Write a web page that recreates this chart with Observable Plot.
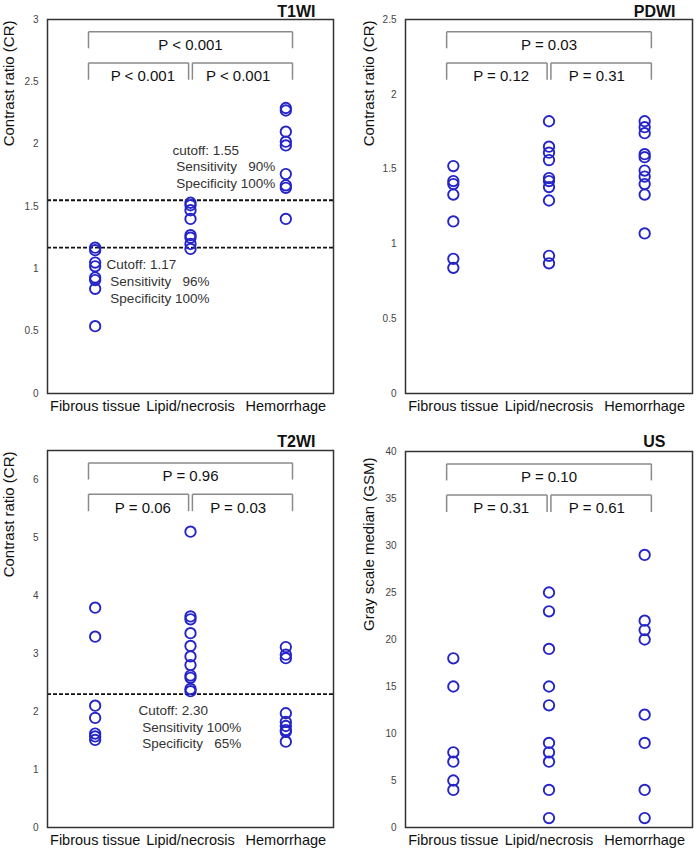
<!DOCTYPE html>
<html><head><meta charset="utf-8">
<script src="https://cdn.jsdelivr.net/npm/d3@7"></script>
<script src="https://cdn.jsdelivr.net/npm/@observablehq/plot@0.6"></script>
<style>
body{margin:0;background:#fff;}
#grid{display:grid;grid-template-columns:348px 348px;grid-template-rows:426px 427px;width:696px;}
#grid svg{display:block;}
svg text{white-space:pre;}
</style></head><body><div id="grid"></div>
<script>
// ---- categories ----
const groups = ["Fibrous tissue", "Lipid/necrosis", "Hemorrhage"];

// ---- T1WI (contrast ratio) ----
const t1Fibrous = [1.17, 1.15, 1.05, 1.02, 0.93, 0.91, 0.84, 0.54];
const t1Lipid = [1.53, 1.51, 1.47, 1.40, 1.27, 1.25, 1.20, 1.16];
const t1Hemorrhage = [2.29, 2.27, 2.10, 2.02, 1.99, 1.76, 1.67, 1.65, 1.40];
const t1Ticks = [0, 0.5, 1, 1.5, 2, 2.5, 3];
const t1P = ["P < 0.001", "P < 0.001", "P < 0.001"]; // 1-3, 1-2, 2-3
const t1Cutoffs = [1.55, 1.17];
const t1Notes = [
  {x: 1.81, y: 1.95, text: "cutoff: 1.55"},
  {x: 1.81, y: 1.82, text: " Sensitivity   90%"},
  {x: 1.81, y: 1.68, text: " Specificity 100%"},
  {x: 1.12, y: 1.035, text: "Cutoff: 1.17"},
  {x: 1.12, y: 0.90, text: " Sensitivity   96%"},
  {x: 1.12, y: 0.762, text: " Specificity 100%"}
];

// ---- PDWI (contrast ratio) ----
const pdFibrous = [1.52, 1.42, 1.40, 1.33, 1.15, 0.90, 0.84];
const pdLipid = [1.82, 1.65, 1.61, 1.56, 1.44, 1.42, 1.38, 1.29, 0.92, 0.87];
const pdHemorrhage = [1.82, 1.78, 1.74, 1.60, 1.58, 1.49, 1.45, 1.40, 1.33, 1.07];
const pdTicks = [0, 0.5, 1, 1.5, 2, 2.5];
const pdP = ["P = 0.03", "P = 0.12", "P = 0.31"];

// ---- T2WI (contrast ratio) ----
const t2Fibrous = [3.79, 3.29, 2.10, 1.89, 1.62, 1.57, 1.51];
const t2Lipid = [5.10, 3.64, 3.59, 3.35, 3.13, 2.95, 2.80, 2.62, 2.58, 2.39, 2.35];
const t2Hemorrhage = [3.11, 2.98, 2.92, 1.97, 1.82, 1.75, 1.68, 1.65, 1.48];
const t2Ticks = [0, 1, 2, 3, 4, 5, 6];
const t2P = ["P = 0.96", "P = 0.06", "P = 0.03"];
const t2Cutoffs = [2.30];
const t2Notes = [
  {x: 1.455, y: 2.02, text: "Cutoff: 2.30"},
  {x: 1.455, y: 1.72, text: " Sensitivity 100%"},
  {x: 1.455, y: 1.45, text: " Specificity   65%"}
];

// ---- US (gray scale median) ----
const usFibrous = [18, 15, 8, 7, 5, 4];
const usLipid = [25, 23, 19, 15, 13, 9, 8, 7, 4, 1];
const usHemorrhage = [29, 22, 21, 20, 12, 9, 4, 1];
const usTicks = [0, 5, 10, 15, 20, 25, 30, 35, 40];
const usP = ["P = 0.10", "P = 0.31", "P = 0.61"];

const FONT = "Liberation Sans, Arial, Helvetica, sans-serif";
const BLUE = "#2424c8";

function panel(o) {
  const pts = o.series.flatMap((vals, i) => vals.map(v => ({g: i + 1, v})));
  const ymax = o.ymax;
  const comps = [
    {from: 1, to: 3, level: 0, p: o.p[0]},
    {from: 1, to: 2, level: 1, p: o.p[1]},
    {from: 2, to: 3, level: 1, p: o.p[2]}
  ];
  const lv = [[0.967, 0.923, 0.932], [0.884, 0.839, 0.848]]; // top, tick end, label (fractions of ymax)
  const inset = (c, side) => {
    if (side === "l") return c.from === 1 ? c.from - 0.07 : c.from + 0.02;
    return c.to === 3 ? c.to + 0.07 : c.to - 0.02;
  };
  const segs = comps.flatMap(c => {
    const xl = inset(c, "l"), xr = inset(c, "r");
    const yt = lv[c.level][0] * ymax, yb = lv[c.level][1] * ymax;
    return [
      {x1: xl, y1: yt, x2: xr, y2: yt},
      {x1: xl, y1: yt, x2: xl, y2: yb},
      {x1: xr, y1: yt, x2: xr, y2: yb}
    ];
  });
  const labels = comps.map(c => ({x: (c.from + c.to) / 2, y: lv[c.level][2] * ymax, p: c.p}));
  return Plot.plot({
    width: 348,
    height: o.height,
    marginLeft: o.ml, marginRight: o.mr, marginTop: o.mt, marginBottom: o.mb,
    style: {fontFamily: FONT, background: "#fff", overflow: "visible"},
    x: {type: "linear", domain: [0.5, 3.5]},
    y: {domain: [0, ymax]},
    marks: [
      Plot.axisX([1, 2, 3], {tickSize: 0, tickPadding: 7, tickFormat: d => groups[d - 1], fontSize: 14.5, fill: "#111", label: null}),
      Plot.axisY(o.ticks, {tickSize: 0, tickPadding: 9, tickFormat: d => String(d), fontSize: 10, fill: "#444", label: null}),
      Plot.text([o.ylabel], {frameAnchor: "top-left", rotate: -90, textAnchor: "end", lineAnchor: "middle", dx: o.ylDx, dy: o.ylDy, fontSize: 15, fill: "#111"}),
      Plot.text([o.title], {frameAnchor: "top-right", textAnchor: "end", lineAnchor: "middle", dx: o.tDx, dy: o.tDy, fontSize: 16, fontWeight: "bold", fill: "#111"}),
      Plot.link(segs, {x1: "x1", y1: "y1", x2: "x2", y2: "y2", stroke: "#8a8a8a", strokeWidth: 1.5}),
      Plot.text(labels, {x: "x", y: "y", text: "p", fontSize: 15, fill: "#111"}),
      Plot.ruleY(o.cutoffs || [], {stroke: "#111", strokeWidth: 1.8, strokeDasharray: "4,2"}),
      Plot.text(o.notes || [], {x: "x", y: "y", text: "text", textAnchor: "start", fontSize: 13.5, fill: "#333"}),
      Plot.dot(pts, {x: "g", y: "v", r: 5.2, stroke: BLUE, strokeWidth: 1.9, fill: "none"}),
      Plot.frame({stroke: "#333", strokeWidth: 1.5})
    ]
  });
}

const grid = document.getElementById("grid");
grid.append(panel({
  title: "T1WI", ylabel: "Contrast ratio (CR)", ymax: 3, ticks: t1Ticks,
  series: [t1Fibrous, t1Lipid, t1Hemorrhage], p: t1P, cutoffs: t1Cutoffs, notes: t1Notes,
  height: 426, ml: 47, mr: 15, mt: 19, mb: 33, ylDx: -38, ylDy: 1, tDx: -18, tDy: -8
}));
grid.append(panel({
  title: "PDWI", ylabel: "Contrast ratio (CR)", ymax: 2.5, ticks: pdTicks,
  series: [pdFibrous, pdLipid, pdHemorrhage], p: pdP,
  height: 426, ml: 57, mr: 4, mt: 19, mb: 33, ylDx: -36, ylDy: 1, tDx: -17, tDy: -8
}));
grid.append(panel({
  title: "T2WI", ylabel: "Contrast ratio (CR)", ymax: 6.5, ticks: t2Ticks,
  series: [t2Fibrous, t2Lipid, t2Hemorrhage], p: t2P, cutoffs: t2Cutoffs, notes: t2Notes,
  height: 427, ml: 47, mr: 15, mt: 24, mb: 26, ylDx: -38, ylDy: 1, tDx: -18, tDy: -9
}));
grid.append(panel({
  title: "US", ylabel: "Gray scale median (GSM)", ymax: 40, ticks: usTicks,
  series: [usFibrous, usLipid, usHemorrhage], p: usP,
  height: 427, ml: 57, mr: 4, mt: 25, mb: 26, ylDx: -36, ylDy: 6, tDx: -27, tDy: -10
}));
</script>
</body></html>
